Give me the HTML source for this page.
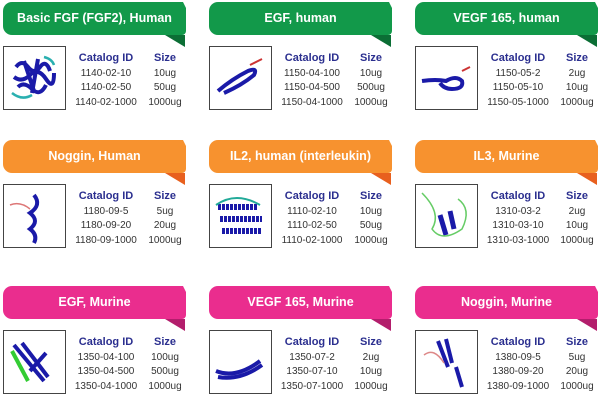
<!DOCTYPE html>
<html><head><meta charset="utf-8"><style>
body{margin:0;width:600px;height:404px;background:#fff;position:relative;overflow:hidden;font-family:"Liberation Sans",sans-serif}
.c{position:absolute;width:190px;height:115px}
.b{position:absolute;left:0;top:0;width:183px;height:33px;border-radius:9px 0 4px 9px;color:#fff;font-weight:bold;font-size:12.5px;line-height:33px;text-align:center}
.b:after{content:"";position:absolute;right:-3px;top:0;width:0;height:0;border-left:6px solid transparent;border-top:12px solid #fff}
.t{position:absolute;left:162px;top:33px;width:0;height:0;border-left:20px solid transparent;border-top:12px solid}
.g .b{background:#12994a}.g .t{border-top-color:#0b6e35}
.o .b{background:#f7922f}.o .t{border-top-color:#e8601e}
.p .b{background:#ea2d8e}.p .t{border-top-color:#b31e6c}
.box{position:absolute;left:0;top:44px;width:61px;height:62px;border:1.5px solid #444;background:#fff}
.tb{position:absolute;left:66px;top:48px;font-size:10px;color:#333;border-collapse:collapse}
.tb td{padding:0;height:14.5px;text-align:center}
.tb td:first-child{width:74px}.tb td:last-child{width:44px}
.tb th{color:#2b2f8f;font-size:11px;font-weight:bold;height:16px;padding:0}
</style></head><body>
<svg width="0" height="0" style="position:absolute"><defs>
<g id="pr"><path d="M12 20 q6-8 12 0 t12 0 t10 4 M10 30 q8 6 16-2 t16 4 t8-6 M14 40 q6-6 14 2 t14-4 M20 14 l10 30 M34 12 l-6 34" stroke="#1a1aa8" stroke-width="4" fill="none"/><path d="M8 46 q10 8 20 2 M40 10 q8 2 10 8" stroke="#2ab0b0" stroke-width="2.5" fill="none"/></g>
</defs></svg>

<div class="c g" style="left:3px;top:2px"><div class="b">Basic FGF (FGF2), Human</div><div class="t"></div><div class="box"><svg width="61" height="62"><use href="#pr"/></svg></div>
<table class="tb"><tr><th>Catalog ID</th><th>Size</th></tr><tr><td>1140-02-10</td><td>10ug</td></tr><tr><td>1140-02-50</td><td>50ug</td></tr><tr><td>1140-02-1000</td><td>1000ug</td></tr></table></div>

<div class="c g" style="left:209px;top:2px"><div class="b">EGF, human</div><div class="t"></div><div class="box"><svg width="61" height="62"><path d="M8 44 q14-12 30-20 q10-4 6 4 q-12 10-30 18" stroke="#1a1aa8" stroke-width="4" fill="none"/><path d="M40 18 l12-6" stroke="#c33" stroke-width="2"/></svg></div>
<table class="tb"><tr><th>Catalog ID</th><th>Size</th></tr><tr><td>1150-04-100</td><td>10ug</td></tr><tr><td>1150-04-500</td><td>500ug</td></tr><tr><td>1150-04-1000</td><td>1000ug</td></tr></table></div>

<div class="c g" style="left:415px;top:2px"><div class="b">VEGF 165, human</div><div class="t"></div><div class="box"><svg width="61" height="62"><path d="M6 34 q14-2 24 0 q10-6 16 0 q2 8-10 8 q-8 0-12-6" stroke="#1a1aa8" stroke-width="4" fill="none"/><path d="M46 24 l8-4" stroke="#c33" stroke-width="2"/></svg></div>
<table class="tb"><tr><th>Catalog ID</th><th>Size</th></tr><tr><td>1150-05-2</td><td>2ug</td></tr><tr><td>1150-05-10</td><td>10ug</td></tr><tr><td>1150-05-1000</td><td>1000ug</td></tr></table></div>

<div class="c o" style="left:3px;top:140px"><div class="b">Noggin, Human</div><div class="t"></div><div class="box"><svg width="61" height="62"><path d="M30 10 q8 10-4 18 q10 8 0 16 q8 6 4 14" stroke="#1a1aa8" stroke-width="4" fill="none"/><path d="M6 20 q10-4 20 4" stroke="#d77" stroke-width="1.5" fill="none"/></svg></div>
<table class="tb"><tr><th>Catalog ID</th><th>Size</th></tr><tr><td>1180-09-5</td><td>5ug</td></tr><tr><td>1180-09-20</td><td>20ug</td></tr><tr><td>1180-09-1000</td><td>1000ug</td></tr></table></div>

<div class="c o" style="left:209px;top:140px"><div class="b">IL2, human (interleukin)</div><div class="t"></div><div class="box"><svg width="61" height="62"><path d="M8 22 h40 M10 34 h42 M12 46 h40" stroke="#1a1aa8" stroke-width="6" stroke-dasharray="3 1" fill="none"/><path d="M6 20 q20-14 44 0" stroke="#2a9" stroke-width="2" fill="none"/></svg></div>
<table class="tb"><tr><th>Catalog ID</th><th>Size</th></tr><tr><td>1110-02-10</td><td>10ug</td></tr><tr><td>1110-02-50</td><td>50ug</td></tr><tr><td>1110-02-1000</td><td>1000ug</td></tr></table></div>

<div class="c o" style="left:415px;top:140px"><div class="b">IL3, Murine</div><div class="t"></div><div class="box"><svg width="61" height="62"><path d="M24 30 l6 20 M34 26 l4 18" stroke="#1a1aa8" stroke-width="5" fill="none"/><path d="M6 8 q20 20 10 36 q10 14 30 0 q10-20-4-30" stroke="#6c6" stroke-width="1.5" fill="none"/></svg></div>
<table class="tb"><tr><th>Catalog ID</th><th>Size</th></tr><tr><td>1310-03-2</td><td>2ug</td></tr><tr><td>1310-03-10</td><td>10ug</td></tr><tr><td>1310-03-1000</td><td>1000ug</td></tr></table></div>

<div class="c p" style="left:3px;top:286px"><div class="b">EGF, Murine</div><div class="t"></div><div class="box"><svg width="61" height="62"><path d="M10 14 l30 36 M18 12 l26 34 M26 40 l16 -18" stroke="#1a1aa8" stroke-width="4" fill="none"/><path d="M8 20 l16 30" stroke="#3c3" stroke-width="4"/></svg></div>
<table class="tb"><tr><th>Catalog ID</th><th>Size</th></tr><tr><td>1350-04-100</td><td>100ug</td></tr><tr><td>1350-04-500</td><td>500ug</td></tr><tr><td>1350-04-1000</td><td>1000ug</td></tr></table></div>

<div class="c p" style="left:209px;top:286px"><div class="b">VEGF 165, Murine</div><div class="t"></div><div class="box"><svg width="61" height="62"><path d="M6 40 q20 8 44-10 M8 46 q22 4 44-12" stroke="#1a1aa8" stroke-width="4" fill="none"/></svg></div>
<table class="tb"><tr><th>Catalog ID</th><th>Size</th></tr><tr><td>1350-07-2</td><td>2ug</td></tr><tr><td>1350-07-10</td><td>10ug</td></tr><tr><td>1350-07-1000</td><td>1000ug</td></tr></table></div>

<div class="c p" style="left:415px;top:286px"><div class="b">Noggin, Murine</div><div class="t"></div><div class="box"><svg width="61" height="62"><path d="M22 10 l10 26 M30 8 l6 24 M40 36 l6 20" stroke="#1a1aa8" stroke-width="4" fill="none"/><path d="M8 24 q10-8 20 8" stroke="#d88" stroke-width="1.5" fill="none"/></svg></div>
<table class="tb"><tr><th>Catalog ID</th><th>Size</th></tr><tr><td>1380-09-5</td><td>5ug</td></tr><tr><td>1380-09-20</td><td>20ug</td></tr><tr><td>1380-09-1000</td><td>1000ug</td></tr></table></div>
</body></html>
